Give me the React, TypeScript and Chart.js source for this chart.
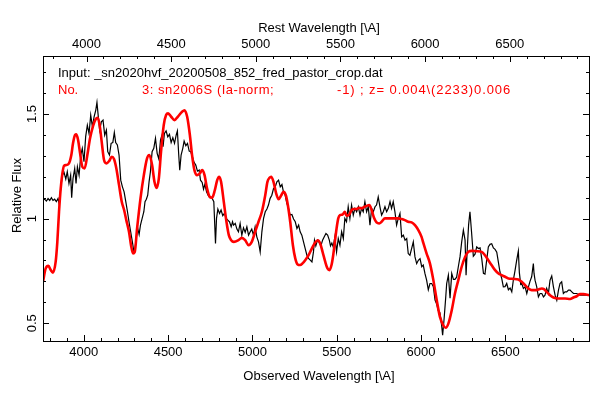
import React, { useEffect, useRef } from "react";
import Chart from "chart.js/auto";

// ---- axis ranges / redshift ----
const X_MIN = 3758;
const X_MAX = 6996;
const Y_MIN = 0.415;
const Y_MAX = 1.7775;
const Z = 0.004;

// ---- tick labels ----
const bottomTickLabels = [4000, 4500, 5000, 5500, 6000, 6500];
const topTickLabels = [4000, 4500, 5000, 5500, 6000, 6500];
const yTickLabels = [0.5, 1, 1.5];

// ---- observed spectrum (black) ----
const blackWave = [
  3758, 3768, 3778, 3788, 3798, 3808, 3817, 3827, 3837, 3847, 3853, 3863, 3873, 3883, 3893, 3902,
  3912, 3922, 3928, 3936, 3946, 3954, 3962, 3972, 3982, 3991, 4001, 4011, 4021, 4031, 4041, 4051,
  4061, 4071, 4078, 4086, 4094, 4104, 4114, 4124, 4134, 4142, 4152, 4162, 4172, 4181, 4189, 4199,
  4209, 4219, 4229, 4239, 4249, 4259, 4268, 4278, 4288, 4297, 4304, 4312, 4320, 4328, 4336, 4346,
  4356, 4363, 4371, 4379, 4387, 4395, 4405, 4415, 4425, 4435, 4445, 4455, 4464, 4470, 4478, 4488,
  4498, 4508, 4518, 4528, 4538, 4548, 4555, 4563, 4569, 4577, 4587, 4595, 4605, 4615, 4625, 4634,
  4644, 4654, 4664, 4674, 4684, 4692, 4702, 4710, 4718, 4728, 4737, 4747, 4759, 4771, 4781, 4787,
  4795, 4805, 4814, 4824, 4834, 4844, 4854, 4864, 4874, 4882, 4888, 4898, 4908, 4917, 4927, 4937,
  4947, 4957, 4967, 4977, 4987, 4996, 5006, 5016, 5026, 5036, 5046, 5056, 5066, 5076, 5086, 5095,
  5105, 5115, 5125, 5135, 5145, 5155, 5165, 5175, 5184, 5194, 5204, 5214, 5224, 5234, 5244, 5254,
  5264, 5274, 5283, 5293, 5303, 5313, 5323, 5333, 5343, 5353, 5362, 5368, 5376, 5386, 5396, 5406,
  5416, 5426, 5436, 5446, 5456, 5463, 5471, 5479, 5489, 5499, 5509, 5519, 5529, 5539, 5548, 5558,
  5568, 5578, 5588, 5598, 5608, 5618, 5628, 5638, 5647, 5657, 5667, 5677, 5687, 5697, 5707, 5717,
  5727, 5736, 5746, 5756, 5766, 5776, 5786, 5796, 5806, 5816, 5825, 5835, 5845, 5855, 5865, 5875,
  5885, 5895, 5905, 5915, 5924, 5934, 5944, 5954, 5964, 5974, 5984, 5994, 6004, 6013, 6023, 6033,
  6043, 6053, 6063, 6073, 6083, 6093, 6102, 6112, 6122, 6128, 6136, 6146, 6152, 6162, 6172, 6182,
  6192, 6201, 6211, 6221, 6231, 6241, 6251, 6261, 6267, 6275, 6282, 6290, 6300, 6310, 6320, 6330,
  6340, 6350, 6360, 6370, 6379, 6389, 6399, 6409, 6419, 6429, 6439, 6449, 6459, 6468, 6478, 6488,
  6498, 6508, 6518, 6528, 6538, 6548, 6557, 6567, 6577, 6583, 6591, 6597, 6607, 6617, 6627, 6637,
  6646, 6656, 6666, 6670, 6676, 6686, 6696, 6706, 6716, 6726, 6735, 6745, 6755, 6765, 6775, 6785,
  6795, 6805, 6815, 6824, 6834, 6844, 6854, 6864, 6874, 6884, 6894, 6904, 6913, 6923, 6943, 6963,
  6983, 6996,
];
const blackFlux = [
  1.089, 1.093, 1.084, 1.096, 1.087, 1.1, 1.087, 1.093, 1.081, 1.096, 1.073, 1.144, 1.208, 1.221, 1.189, 1.224,
  1.168, 1.208, 1.1, 1.192, 1.24, 1.168, 1.248, 1.208, 1.304, 1.336, 1.272, 1.392, 1.447, 1.407, 1.495, 1.439,
  1.487, 1.519, 1.556, 1.487, 1.423, 1.463, 1.471, 1.399, 1.423, 1.32, 1.304, 1.36, 1.364, 1.412, 1.364, 1.352,
  1.304, 1.184, 1.152, 1.128, 1.081, 1.033, 0.985, 0.937, 0.889, 0.842, 0.858, 0.913, 0.953, 0.924, 0.969, 1.001,
  1.033, 1.081, 1.093, 1.112, 1.176, 1.224, 1.32, 1.336, 1.384, 1.312, 1.285, 1.376, 1.4, 1.344, 1.407, 1.419,
  1.391, 1.403, 1.364, 1.387, 1.36, 1.4, 1.419, 1.304, 1.232, 1.304, 1.336, 1.371, 1.349, 1.36, 1.323, 1.32,
  1.296, 1.269, 1.256, 1.227, 1.232, 1.184, 1.173, 1.141, 1.164, 1.128, 1.112, 1.1, 1.1, 1.081, 0.881, 1.001,
  1.046, 1.025, 1.041, 1.014, 1.025, 1.001, 0.993, 0.985, 0.961, 0.985, 0.969, 0.977, 0.95, 0.937, 0.977, 0.921,
  0.956, 0.934, 0.961, 0.921, 0.937, 0.95, 0.921, 0.961, 0.913, 0.889, 0.841, 0.937, 1.001, 1.033, 1.046, 1.065,
  1.097, 1.112, 1.144, 1.152, 1.176, 1.184, 1.152, 1.163, 1.128, 1.112, 1.073, 1.049, 1.017, 1.02, 0.998, 0.985,
  0.953, 0.969, 0.937, 0.921, 0.889, 0.857, 0.825, 0.81, 0.802, 0.793, 0.841, 0.897, 0.87, 0.897, 0.886, 0.87,
  0.897, 0.913, 0.929, 0.921, 0.897, 0.87, 0.883, 0.865, 0.913, 0.841, 0.905, 0.873, 0.937, 0.905, 1.001, 0.985,
  1.057, 1.001, 1.065, 1.017, 1.049, 1.033, 1.057, 1.017, 1.049, 1.033, 1.081, 1.033, 1.057, 0.969, 1.049, 1.033,
  1.057, 1.065, 1.104, 1.057, 1.017, 1.033, 1.057, 1.033, 1.049, 1.081, 1.049, 1.081, 1.033, 0.969, 1.001, 1.025,
  0.913, 0.921, 0.897, 0.905, 0.833, 0.825, 0.857, 0.889, 0.817, 0.785, 0.801, 0.809, 0.77, 0.778, 0.738, 0.706,
  0.66, 0.69, 0.69, 0.674, 0.61, 0.59, 0.56, 0.55, 0.49, 0.443, 0.514, 0.62, 0.69, 0.73, 0.62, 0.738,
  0.71, 0.71, 0.72, 0.77, 0.817, 0.889, 0.945, 0.897, 0.73, 0.87, 0.97, 1.033, 0.93, 0.82, 0.83, 0.865,
  0.857, 0.86, 0.809, 0.738, 0.735, 0.8, 0.865, 0.877, 0.88, 0.86, 0.853, 0.84, 0.79, 0.745, 0.715, 0.674,
  0.675, 0.69, 0.66, 0.668, 0.65, 0.71, 0.75, 0.8, 0.845, 0.742, 0.686, 0.69, 0.666, 0.674, 0.642, 0.674,
  0.7, 0.722, 0.785, 0.738, 0.706, 0.674, 0.626, 0.642, 0.642, 0.626, 0.634, 0.666, 0.642, 0.706, 0.726, 0.674,
  0.634, 0.61, 0.658, 0.69, 0.698, 0.642, 0.65, 0.65, 0.658, 0.658, 0.65, 0.642, 0.642, 0.642, 0.634, 0.634,
  0.634, 0.634,
];

// ---- template fit (red) ----
const redWave = [
  3758, 3774, 3790, 3804, 3817, 3833, 3843, 3853, 3863, 3873, 3883, 3896, 3912, 3926, 3936, 3948,
  3956, 3966, 3978, 3991, 4005, 4021, 4037, 4055, 4071, 4082, 4094, 4106, 4120, 4134, 4150, 4166,
  4179, 4193, 4209, 4225, 4239, 4252, 4268, 4280, 4292, 4302, 4316, 4336, 4356, 4375, 4389, 4405,
  4419, 4431, 4445, 4458, 4474, 4488, 4500, 4518, 4538, 4557, 4583, 4597, 4613, 4629, 4642, 4656,
  4672, 4688, 4702, 4716, 4731, 4747, 4761, 4777, 4791, 4803, 4814, 4830, 4846, 4860, 4874, 4890,
  4917, 4937, 4957, 4977, 4996, 5016, 5036, 5056, 5076, 5089, 5101, 5111, 5125, 5141, 5155, 5171,
  5184, 5198, 5210, 5224, 5240, 5254, 5268, 5283, 5297, 5313, 5333, 5352, 5372, 5388, 5402, 5416,
  5432, 5445, 5457, 5469, 5479, 5489, 5499, 5509, 5519, 5535, 5548, 5558, 5572, 5588, 5602, 5618,
  5633, 5647, 5661, 5677, 5693, 5707, 5721, 5736, 5752, 5766, 5786, 5806, 5825, 5845, 5865, 5885,
  5904, 5924, 5944, 5964, 5984, 6003, 6013, 6033, 6053, 6073, 6093, 6112, 6132, 6146, 6162, 6182,
  6201, 6221, 6241, 6261, 6280, 6300, 6330, 6360, 6379, 6399, 6419, 6439, 6459, 6478, 6498, 6518,
  6548, 6577, 6597, 6617, 6637, 6656, 6676, 6696, 6716, 6729, 6745, 6765, 6785, 6815, 6854, 6884,
  6904, 6923, 6943, 6963, 6996,
];
const redFlux = [
  0.698, 0.762, 0.774, 0.754, 0.742, 0.793, 0.889, 1.033, 1.144, 1.216, 1.253, 1.256, 1.264, 1.304, 1.36, 1.4,
  1.403, 1.376, 1.312, 1.248, 1.24, 1.304, 1.384, 1.444, 1.476, 1.482, 1.447, 1.368, 1.28, 1.264, 1.275, 1.296,
  1.285, 1.24, 1.16, 1.081, 1.041, 0.993, 0.937, 0.873, 0.833, 0.84, 0.953, 1.096, 1.208, 1.288, 1.304, 1.256,
  1.176, 1.147, 1.192, 1.32, 1.447, 1.495, 1.503, 1.487, 1.471, 1.487, 1.511, 1.518, 1.487, 1.4, 1.304, 1.232,
  1.208, 1.216, 1.232, 1.208, 1.144, 1.104, 1.1, 1.136, 1.184, 1.2, 1.176, 1.081, 0.985, 0.921, 0.897, 0.889,
  0.897, 0.908, 0.897, 0.873, 0.889, 0.937, 0.985, 1.033, 1.112, 1.176, 1.195, 1.2, 1.176, 1.12, 1.093, 1.112,
  1.128, 1.112, 1.065, 0.985, 0.873, 0.81, 0.781, 0.778, 0.786, 0.801, 0.825, 0.857, 0.886, 0.897, 0.881, 0.841,
  0.793, 0.762, 0.754, 0.778, 0.825, 0.889, 0.953, 1.001, 1.017, 1.02, 1.033, 1.014, 1.017, 1.041, 1.046, 1.046,
  1.052, 1.049, 1.055, 1.061, 1.065, 1.041, 1.004, 0.982, 0.977, 0.985, 1.001, 1.001, 1.001, 1.001, 1.001, 0.998,
  0.993, 0.985, 0.982, 0.969, 0.945, 0.913, 0.885, 0.833, 0.785, 0.706, 0.61, 0.53, 0.49, 0.478, 0.498, 0.562,
  0.642, 0.706, 0.77, 0.817, 0.841, 0.846, 0.844, 0.841, 0.825, 0.801, 0.777, 0.754, 0.738, 0.73, 0.722, 0.714,
  0.712, 0.709, 0.698, 0.682, 0.666, 0.658, 0.658, 0.661, 0.666, 0.663, 0.65, 0.634, 0.623, 0.618, 0.618, 0.616,
  0.623, 0.629, 0.639, 0.639, 0.634,
];

const FONT = '13px "Liberation Sans", Arial, Helvetica, sans-serif';

const framePlugin = {
  id: "pgframe",
  afterDatasetsDraw(chart: any) {
    const { ctx, chartArea: a, scales } = chart;
    const sx = scales.x;
    const st = scales.xTop;
    const sy = scales.y;
    ctx.save();
    ctx.strokeStyle = "#000";
    ctx.lineWidth = 1;
    ctx.strokeRect(Math.round(a.left) + 0.5, Math.round(a.top) + 0.5, Math.round(a.right - a.left), Math.round(a.bottom - a.top));

    const seg = (x1: number, y1: number, x2: number, y2: number) => {
      ctx.beginPath();
      ctx.moveTo(x1, y1);
      ctx.lineTo(x2, y2);
      ctx.stroke();
    };
    // bottom ticks (observed)
    for (let v = Math.ceil(sx.min / 100) * 100; v <= sx.max; v += 100) {
      const p = Math.round(sx.getPixelForValue(v)) + 0.5;
      const len = v % 500 === 0 ? 6 : 3;
      seg(p, a.bottom, p, a.bottom - len);
    }
    // top ticks (rest)
    for (let v = Math.ceil(st.min / 100) * 100; v <= st.max; v += 100) {
      const p = Math.round(st.getPixelForValue(v)) + 0.5;
      const len = v % 500 === 0 ? 6 : 3;
      seg(p, a.top, p, a.top + len);
    }
    // y ticks both sides
    for (let i = Math.ceil(sy.min * 10); i <= Math.floor(sy.max * 10); i++) {
      const v = i / 10;
      const p = Math.round(sy.getPixelForValue(v)) + 0.5;
      const len = i % 5 === 0 ? 6 : 3;
      seg(a.left, p, a.left + len, p);
      seg(a.right, p, a.right - len, p);
    }

    ctx.fillStyle = "#000";
    ctx.font = FONT;
    ctx.textAlign = "center";
    ctx.textBaseline = "middle";
    bottomTickLabels.forEach((v) => ctx.fillText(String(v), sx.getPixelForValue(v), a.bottom + 11.5));
    topTickLabels.forEach((v) => ctx.fillText(String(v), st.getPixelForValue(v), a.top - 12));
    const cx = (a.left + a.right) / 2 + 3;
    ctx.fillText("Rest Wavelength [\\A]", cx, a.top - 28);
    ctx.fillText("Observed Wavelength [\\A]", cx, a.bottom + 35);
    yTickLabels.forEach((v) => {
      ctx.save();
      ctx.translate(a.left - 11, sy.getPixelForValue(v));
      ctx.rotate(-Math.PI / 2);
      ctx.fillText(String(v), 0, 0);
      ctx.restore();
    });
    ctx.save();
    ctx.translate(a.left - 26, (a.top + a.bottom) / 2 - 3);
    ctx.rotate(-Math.PI / 2);
    ctx.fillText("Relative Flux", 0, 0);
    ctx.restore();

    ctx.textAlign = "left";
    ctx.fillText("Input: _sn2020hvf_20200508_852_fred_pastor_crop.dat", a.left + 15, a.top + 17);
    ctx.fillStyle = "#ff0000";
    ctx.fillText("No.", a.left + 15, a.top + 34);
    ctx.letterSpacing = "0.5px";
    ctx.fillText("3: sn2006S (Ia-norm;", a.left + 99, a.top + 34);
    ctx.letterSpacing = "0.9px";
    ctx.fillText("-1) ; z= 0.004\\(2233)0.006", a.left + 294, a.top + 34);
    ctx.letterSpacing = "0px";
    ctx.restore();
  },
};

export default function App() {
  const ref = useRef<HTMLCanvasElement | null>(null);
  useEffect(() => {
    if (!ref.current) return;
    const blackData = blackWave.map((w, i) => ({ x: w, y: blackFlux[i] }));
    const redData = redWave.map((w, i) => ({ x: w, y: redFlux[i] }));
    const chart = new Chart(ref.current, {
      type: "line",
      data: {
        datasets: [
          {
            label: "template",
            data: redData,
            borderColor: "#ff0000",
            borderWidth: 2.6,
            pointRadius: 0,
            cubicInterpolationMode: "monotone",
            fill: false,
            order: 0,
          },
          {
            label: "observed",
            data: blackData,
            borderColor: "#000000",
            borderWidth: 1.2,
            pointRadius: 0,
            tension: 0,
            fill: false,
            order: 1,
          },
        ],
      },
      options: {
        responsive: false,
        animation: false,
        devicePixelRatio: 1,
        layout: { padding: { left: 43, right: 17, top: 56, bottom: 54 } },
        plugins: { legend: { display: false }, tooltip: { enabled: false } },
        events: [],
        scales: {
          x: { type: "linear", min: X_MIN, max: X_MAX, display: false },
          xTop: { type: "linear", axis: "x", min: X_MIN / (1 + Z), max: X_MAX / (1 + Z), display: false },
          y: { type: "linear", min: Y_MIN, max: Y_MAX, display: false },
        },
      },
      plugins: [framePlugin],
    } as any);
    return () => chart.destroy();
  }, []);
  return (
    <div style={{ position: "absolute", left: 0, top: 0, width: 606, height: 395, background: "#fff" }}>
      <canvas ref={ref} width={606} height={395} />
    </div>
  );
}
